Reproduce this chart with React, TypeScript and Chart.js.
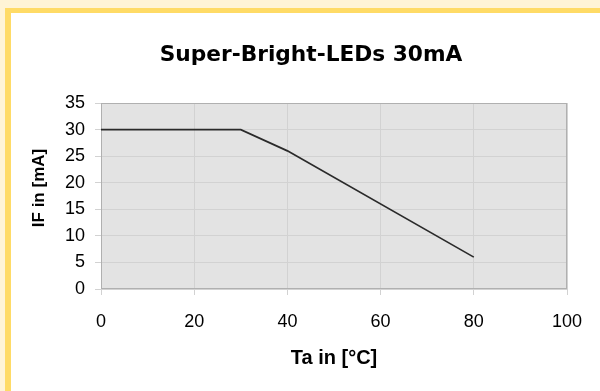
import React, { useEffect, useRef } from "react";
import { Chart, registerables } from "chart.js";

Chart.register(...registerables);

const chartTitle = "Super-Bright-LEDs 30mA";
const xAxisTitle = "Ta in [°C]";
const yAxisTitle = "IF in [mA]";
const temperatures = [0, 30, 40, 80];
const currents = [30, 30, 26, 6];
const xMin = 0;
const xMax = 100;
const xStep = 20;
const yMin = 0;
const yMax = 35;
const yStep = 5;

const FONT = "'Liberation Sans', Arial, sans-serif";

const framePlugin = {
  id: "frame",
  beforeDraw(chart: any) {
    const { ctx, chartArea } = chart;
    ctx.save();
    ctx.fillStyle = "#e3e3e3";
    ctx.fillRect(chartArea.left, chartArea.top, chartArea.right - chartArea.left, chartArea.bottom - chartArea.top);
    ctx.restore();
  },
  beforeDatasetsDraw(chart: any) {
    const { ctx, chartArea } = chart;
    ctx.save();
    ctx.strokeStyle = "#b0b0b0";
    ctx.lineWidth = 1;
    ctx.strokeRect(
      Math.round(chartArea.left) + 0.5,
      Math.round(chartArea.top) + 0.5,
      Math.round(chartArea.right - chartArea.left) - 1,
      Math.round(chartArea.bottom - chartArea.top) - 1
    );
    ctx.restore();
  },
  afterDraw(chart: any) {
    const { ctx } = chart;
    ctx.save();
    ctx.translate(39, 188);
    ctx.rotate(-Math.PI / 2);
    ctx.font = `bold 17px ${FONT}`;
    ctx.fillStyle = "#000";
    ctx.textAlign = "center";
    ctx.textBaseline = "middle";
    ctx.fillText(yAxisTitle, 0, 0);
    ctx.restore();
  },
};

export default function App() {
  const canvasRef = useRef<HTMLCanvasElement | null>(null);

  useEffect(() => {
    if (!canvasRef.current) return;
    const points = temperatures.map((t, i) => ({ x: t, y: currents[i] }));
    const chart = new Chart(canvasRef.current, {
      type: "line",
      data: {
        datasets: [
          {
            data: points,
            borderColor: "#2a2a2a",
            borderWidth: 1.7,
            pointRadius: 0,
            fill: false,
            tension: 0,
          },
        ],
      },
      options: {
        animation: false,
        responsive: false,
        layout: { padding: { left: 55, right: 33, top: 0, bottom: 0 } },
        plugins: {
          legend: { display: false },
          tooltip: { enabled: false },
          title: {
            display: true,
            text: chartTitle,
            color: "#000",
            font: { family: "'DejaVu Sans', sans-serif", size: 21.7, weight: "bold" },
            padding: { top: 42, bottom: 35 },
          },
        },
        scales: {
          x: {
            type: "linear",
            min: xMin,
            max: xMax,
            afterFit(scale: any) {
              scale.height = 102;
            },
            ticks: {
              stepSize: xStep,
              color: "#000",
              font: { family: FONT, size: 18 },
              padding: 16,
              maxRotation: 0,
            },
            grid: { color: "#d2d2d2", tickLength: 6, drawTicks: true },
            border: { display: false },
            title: {
              display: true,
              text: xAxisTitle,
              color: "#000",
              font: { family: FONT, size: 20, weight: "bold" },
              padding: { top: 0, bottom: 21 },
            },
          },
          y: {
            type: "linear",
            min: yMin,
            max: yMax,
            afterFit(scale: any) {
              scale.width = 46;
            },
            ticks: {
              stepSize: yStep,
              color: "#000",
              font: { family: FONT, size: 18 },
              padding: 10,
            },
            grid: { color: "#d2d2d2", tickLength: 6, drawTicks: true },
            border: { display: false },
          },
        },
      },
      plugins: [framePlugin],
    });
    return () => chart.destroy();
  }, []);

  return (
    <div
      style={{
        position: "fixed",
        left: 0,
        top: 0,
        width: 600,
        height: 391,
        overflow: "hidden",
        background: "#fff4d6",
      }}
    >
      <div
        style={{
          position: "absolute",
          left: 5,
          top: 8,
          width: 700,
          height: 500,
          background: "#ffffff",
          borderLeft: "6px solid #ffdb66",
          borderTop: "5px solid #ffdb66",
        }}
      />
      <canvas
        ref={canvasRef}
        width={600}
        height={391}
        style={{ position: "absolute", left: 0, top: 0, width: 600, height: 391 }}
      />
    </div>
  );
}
